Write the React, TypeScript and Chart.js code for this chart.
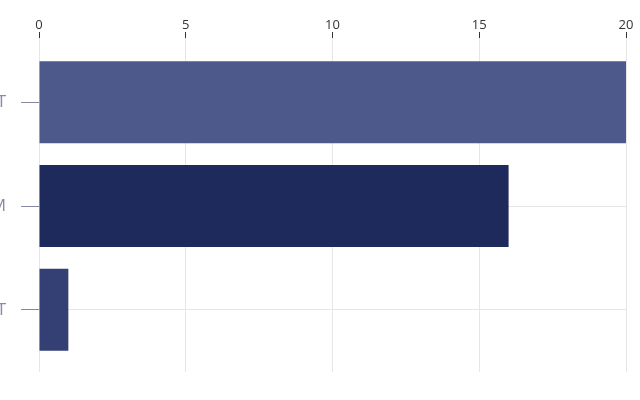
import React, { useEffect, useRef } from "react";
import { Chart, registerables } from "chart.js";

Chart.register(...registerables);

const categories: string[] = ["T", "M", "T"];
const values: number[] = [20, 16, 1];
const barColors: string[] = ["#4d598a", "#1f2a5c", "#343f73"];
const xTicks: number[] = [0, 5, 10, 15, 20];

export default function App() {
  const ref = useRef<HTMLCanvasElement | null>(null);

  useEffect(() => {
    if (!ref.current) return;
    const chart = new Chart(ref.current, {
      type: "bar",
      data: {
        datasets: [
          {
            data: values.map((v, i) => ({ x: v, y: i })),
            backgroundColor: barColors,
            borderWidth: 0,
            barPercentage: 0.79,
            categoryPercentage: 1,
          } as any,
        ],
      },
      options: {
        indexAxis: "y",
        animation: false,
        responsive: false,
        maintainAspectRatio: false,
        layout: { padding: { top: 0, right: 14, bottom: 28, left: 0 } },
        plugins: { legend: { display: false }, tooltip: { enabled: false } },
        scales: {
          x: {
            type: "linear",
            position: "top",
            offset: false,
            min: xTicks[0],
            max: xTicks[xTicks.length - 1],
            afterBuildTicks: (scale: any) => {
              scale.ticks = xTicks.map((v) => ({ value: v }));
            },
            afterFit: (scale: any) => {
              scale.height = 38;
            },
            border: { display: false },
            grid: {
              offset: false,
              color: "#e6e6e6",
              tickColor: "#333",
              tickLength: 6,
              lineWidth: 1,
            },
            ticks: {
              padding: -1,
              color: "#333",
              font: { family: "'Open Sans'", size: 13 },
            },
          },
          y: {
            type: "linear",
            reverse: true,
            offset: false,
            min: -0.62,
            max: 2.6,
            afterBuildTicks: (scale: any) => {
              scale.ticks = categories.map((_, i) => ({ value: i }));
            },
            afterFit: (scale: any) => {
              scale.width = 39;
            },
            border: { display: false },
            grid: {
              offset: false,
              color: "#e6e6e6",
              tickColor: "#858aa3",
              tickLength: 18,
            },
            ticks: {
              padding: 15,
              color: "#878ca5",
              font: { family: "'Open Sans'", size: 17 },
              callback: (v: any) => categories[v as number] ?? "",
            },
          },
        },
      },
    });
    return () => chart.destroy();
  }, []);

  return (
    <div style={{ position: "absolute", left: 0, top: 0, width: 640, height: 400 }}>
      <canvas ref={ref} width={640} height={400} style={{ width: 640, height: 400 }} />
    </div>
  );
}
